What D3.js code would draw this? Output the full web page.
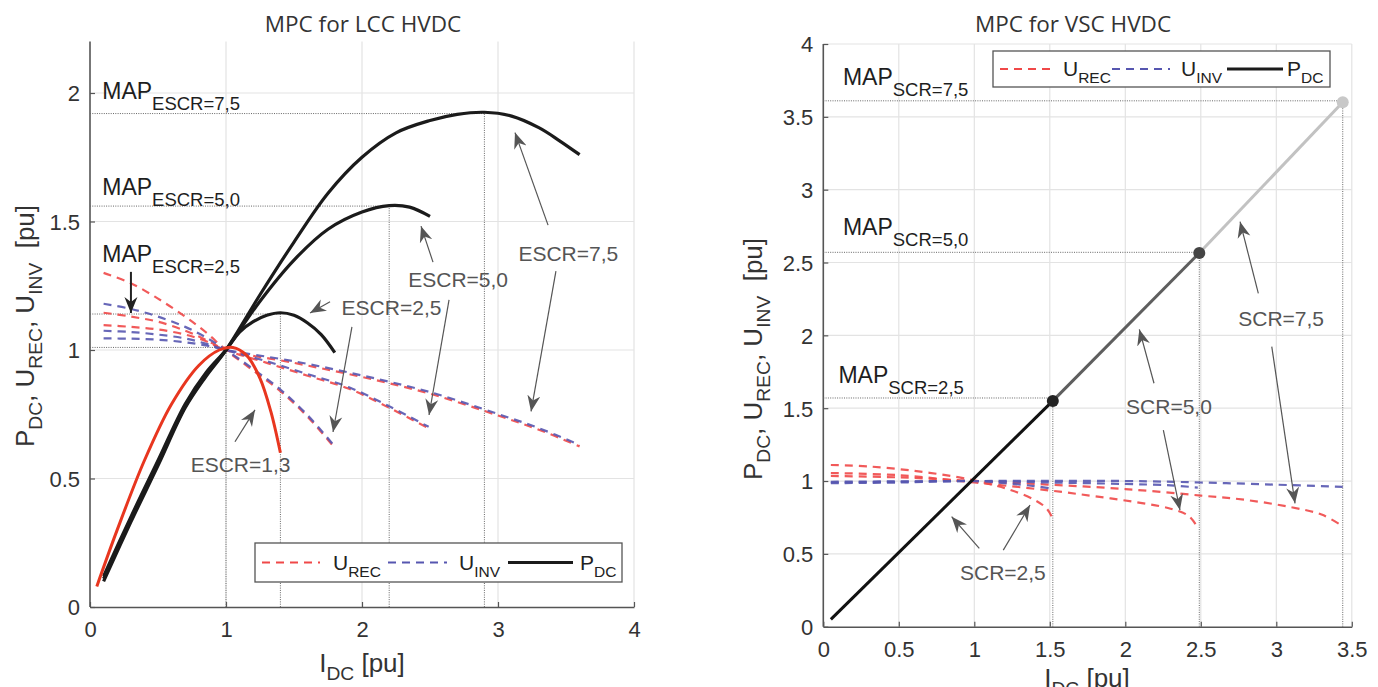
<!DOCTYPE html>
<html>
<head>
<meta charset="utf-8">
<script src="https://cdn.jsdelivr.net/npm/d3@7"></script>
<style>
  body { margin: 0; background: #fff; }
  svg { display: block; }
  text { font-family: "Liberation Sans", Arial, sans-serif; }
</style>
</head>
<body>
<div id="chart"></div>
<script>
// ---------- LCC panel data ----------
const lccXTicks = [0, 1, 2, 3, 4];
const lccYTicks = [0, 0.5, 1, 1.5, 2];

const lccPdc13 = [[0.05,0.08],[0.2,0.30],[0.4,0.57],[0.6,0.79],[0.8,0.94],[0.95,1.0],[1.05,1.01],[1.15,0.98],[1.25,0.89],[1.33,0.76],[1.4,0.6]];
const lccPdc25 = [[0.1,0.12],[0.3,0.35],[0.5,0.57],[0.7,0.79],[0.85,0.91],[1,1.0],[1.1,1.07],[1.2,1.11],[1.3,1.135],[1.4,1.145],[1.5,1.135],[1.6,1.105],[1.7,1.06],[1.8,0.99]];
const lccPdc50 = [[0.1,0.11],[0.3,0.34],[0.5,0.56],[0.7,0.78],[0.85,0.9],[1,1.0],[1.25,1.19],[1.5,1.35],[1.75,1.47],[2,1.537],[2.2,1.562],[2.35,1.556],[2.5,1.52]];
const lccPdc75 = [[0.1,0.1],[0.3,0.33],[0.5,0.55],[0.7,0.775],[0.85,0.895],[1,1.0],[1.25,1.215],[1.5,1.42],[1.75,1.61],[2,1.75],[2.25,1.845],[2.5,1.893],[2.7,1.917],[2.9,1.925],[3.1,1.91],[3.3,1.865],[3.45,1.815],[3.6,1.76]];

const lccUrec25 = [[0.1,1.30],[0.3,1.26],[0.5,1.20],[0.7,1.13],[0.85,1.07],[1,1.0],[1.2,0.92],[1.4,0.84],[1.6,0.74],[1.79,0.625]];
const lccUinv25 = [[0.1,1.18],[0.3,1.16],[0.5,1.13],[0.7,1.09],[0.85,1.05],[1,1.0],[1.2,0.926],[1.4,0.846],[1.6,0.746],[1.79,0.631]];
const lccUrec50 = [[0.1,1.145],[0.3,1.13],[0.5,1.11],[0.7,1.075],[0.85,1.04],[1,1.0],[1.3,0.95],[1.6,0.9],[1.9,0.85],[2.2,0.775],[2.49,0.695]];
const lccUinv50 = [[0.1,1.075],[0.3,1.07],[0.5,1.06],[0.7,1.045],[0.85,1.025],[1,1.0],[1.3,0.956],[1.6,0.906],[1.9,0.856],[2.2,0.781],[2.49,0.701]];
const lccUrec75 = [[0.1,1.097],[0.3,1.09],[0.5,1.08],[0.7,1.06],[0.85,1.035],[1,1.0],[1.5,0.95],[2,0.895],[2.5,0.83],[3,0.745],[3.3,0.69],[3.6,0.625]];
const lccUinv75 = [[0.1,1.045],[0.3,1.044],[0.5,1.04],[0.7,1.03],[0.85,1.018],[1,1.0],[1.5,0.956],[2,0.901],[2.5,0.836],[3,0.751],[3.3,0.696],[3.6,0.631]];

// maximum power points (I, P) and MAP label anchors
const lccMpp = [[1.0,1.01],[1.4,1.14],[2.2,1.56],[2.9,1.92]];
const lccMapLabels = [
  { sub: 'ESCR=7,5', x: 0.09, y: 1.975 },
  { sub: 'ESCR=5,0', x: 0.09, y: 1.603 },
  { sub: 'ESCR=2,5', x: 0.09, y: 1.344 }
];
const lccNotes = [
  { text: 'ESCR=1,3', x: 0.74, y: 0.525 },
  { text: 'ESCR=2,5', x: 1.85, y: 1.136 },
  { text: 'ESCR=5,0', x: 2.34, y: 1.245 },
  { text: 'ESCR=7,5', x: 3.15, y: 1.346 }
];
const lccArrows = [
  { from: [0.301,1.304], to: [0.301,1.144], dark: true },
  { from: [1.066,0.643], to: [1.213,0.767] },
  { from: [1.765,1.188], to: [1.618,1.144] },
  { from: [1.926,1.09],  to: [1.787,0.681] },
  { from: [2.522,1.342], to: [2.434,1.482] },
  { from: [2.64,1.195],  to: [2.493,0.747] },
  { from: [3.368,1.486], to: [3.125,1.846] },
  { from: [3.426,1.307], to: [3.243,0.761] }
];

// ---------- VSC panel data ----------
const vscXTicks = [0, 0.5, 1, 1.5, 2, 2.5, 3, 3.5];
const vscYTicks = [0, 0.5, 1, 1.5, 2, 2.5, 3, 3.5, 4];

const vscPdc25 = [[0.05,0.05],[1.52,1.55]];
const vscPdc50 = [[1.52,1.55],[2.49,2.565]];
const vscPdc75 = [[2.49,2.565],[3.44,3.60]];
const vscMapLevels = [1.57, 2.57, 3.61];

const vscUrec25 = [[0.05,1.11],[0.3,1.10],[0.6,1.07],[0.9,1.025],[1.1,0.98],[1.25,0.935],[1.4,0.87],[1.48,0.81],[1.53,0.72]];
const vscUinv25 = [[0.05,0.985],[0.5,0.99],[1,1.0],[1.2,0.985],[1.4,0.965],[1.53,0.945]];
const vscUrec50 = [[0.05,1.055],[0.5,1.04],[1,0.99],[1.5,0.935],[1.8,0.895],[2.1,0.85],[2.3,0.81],[2.42,0.76],[2.48,0.68]];
const vscUinv50 = [[0.05,0.99],[0.5,0.995],[1,1.0],[1.5,0.99],[2,0.98],[2.3,0.97],[2.48,0.955]];
const vscUrec75 = [[0.05,1.035],[0.5,1.025],[1,1.0],[1.5,0.975],[2,0.945],[2.5,0.9],[2.8,0.87],[3.1,0.82],[3.3,0.77],[3.44,0.69]];
const vscUinv75 = [[0.05,0.995],[1,1.0],[2,1.0],[2.5,0.99],[3,0.975],[3.44,0.96]];

const vscMapLabels = [
  { sub: 'SCR=7,5', x: 0.13, y: 3.718 },
  { sub: 'SCR=5,0', x: 0.13, y: 2.688 },
  { sub: 'SCR=2,5', x: 0.10, y: 1.671 }
];
const vscNotes = [
  { text: 'SCR=2,5', x: 0.905, y: 0.32 },
  { text: 'SCR=5,0', x: 2.005, y: 1.46 },
  { text: 'SCR=7,5', x: 2.748, y: 2.064 }
];
const vscArrows = [
  { from: [1.033,0.538], to: [0.85,0.755] },
  { from: [1.192,0.526], to: [1.369,0.835] },
  { from: [2.19,1.671],  to: [2.093,2.041] },
  { from: [2.252,1.35],  to: [2.362,0.801] },
  { from: [2.881,2.288], to: [2.76,2.78] },
  { from: [2.97,1.922],  to: [3.124,0.847] }
];

// ---------- drawing ----------
const W = 1378, H = 687;
const RED = '#f04848', BLUE = '#5656b0', GRID = '#e3e3e3', AXIS = '#555';

const svg = d3.select('#chart').append('svg')
  .attr('width', W).attr('height', H)
  .style('background', '#fff');

const defs = svg.append('defs');
[['arrGrey', '#555'], ['arrDark', '#222']].forEach(([id, c]) => {
  defs.append('marker')
    .attr('id', id)
    .attr('viewBox', '-16 -7 18 14')
    .attr('refX', 0).attr('refY', 0)
    .attr('markerWidth', 18).attr('markerHeight', 14)
    .attr('markerUnits', 'userSpaceOnUse')
    .attr('orient', 'auto')
    .append('path')
    .attr('d', 'M0,0 L-16,-6.5 L-11,0 L-16,6.5 Z')
    .attr('fill', c);
});

function subText(g, x, y, main, sub, size, subSize, dy, color) {
  const t = g.append('text').attr('x', x).attr('y', y)
    .attr('fill', color || '#222').style('font-size', size + 'px');
  t.append('tspan').text(main);
  t.append('tspan').attr('dy', dy).style('font-size', subSize + 'px').text(sub);
  return t;
}

function axisLabelY(g, x, y, size) {
  const t = g.append('text')
    .attr('transform', `translate(${x},${y}) rotate(-90)`)
    .attr('text-anchor', 'middle')
    .attr('fill', '#333').style('font-size', size + 'px');
  const s = size * 0.74, d = size * 0.3;
  t.append('tspan').text('P');
  t.append('tspan').attr('dy', d).style('font-size', s + 'px').text('DC');
  t.append('tspan').attr('dy', -d).text(', U');
  t.append('tspan').attr('dy', d).style('font-size', s + 'px').text('REC');
  t.append('tspan').attr('dy', -d).text(', U');
  t.append('tspan').attr('dy', d).style('font-size', s + 'px').text('INV');
  t.append('tspan').attr('dy', -d).text('\u00a0 [pu]');
}

function axisLabelX(g, x, y, size) {
  const t = g.append('text').attr('x', x).attr('y', y)
    .attr('text-anchor', 'middle')
    .attr('fill', '#333').style('font-size', size + 'px');
  t.append('tspan').text('I');
  t.append('tspan').attr('dy', size * 0.3).style('font-size', size * 0.74 + 'px').text('DC');
  t.append('tspan').attr('dy', -size * 0.3).text(' [pu]');
}

function panel(opt) {
  const x = d3.scaleLinear().domain(opt.xDomain).range(opt.xRange);
  const y = d3.scaleLinear().domain(opt.yDomain).range(opt.yRange);
  const g = svg.append('g');

  // grid
  g.append('g').selectAll('line').data(opt.xTicks.filter(d => d > 0)).join('line')
    .attr('x1', d => x(d)).attr('x2', d => x(d))
    .attr('y1', y.range()[0]).attr('y2', y.range()[1])
    .attr('stroke', GRID).attr('stroke-width', 1.2);
  g.append('g').selectAll('line').data(opt.yTicks.filter(d => d > 0)).join('line')
    .attr('x1', x.range()[0]).attr('x2', x.range()[1])
    .attr('y1', d => y(d)).attr('y2', d => y(d))
    .attr('stroke', GRID).attr('stroke-width', 1.2);

  // axes
  const ax = g.append('g').attr('transform', `translate(0,${y.range()[0]})`)
    .call(d3.axisBottom(x).tickValues(opt.xTicks).tickSizeInner(-5).tickSizeOuter(0).tickPadding(14)
      .tickFormat(d3.format('')));
  const ay = g.append('g').attr('transform', `translate(${x.range()[0]},0)`)
    .call(d3.axisLeft(y).tickValues(opt.yTicks).tickSizeInner(-5).tickSizeOuter(0).tickPadding(10)
      .tickFormat(d3.format('')));
  [ax, ay].forEach(a => {
    a.select('.domain').attr('stroke', AXIS).attr('stroke-width', 1.6);
    a.selectAll('.tick line').attr('stroke', AXIS).attr('stroke-width', 1.2);
    a.selectAll('.tick text').attr('fill', '#333').style('font-size', '22px')
      .style('font-family', '"Liberation Sans", Arial, sans-serif');
  });
  ay.select('.domain').attr('d', `M0,${y.range()[0]}V${y.range()[1]}`);
  ay.selectAll('.tick text').attr('dy', '0.36em');
  ax.selectAll('.tick text').attr('dy', '0.72em');

  // title
  g.append('text').attr('x', opt.titleX).attr('y', 32).attr('text-anchor', 'middle')
    .attr('fill', '#333').style('font-family', '"Open Sans", sans-serif').style('font-size', '22.5px')
    .text(opt.title);

  return { g, x, y };
}

const line = (x, y) => d3.line().x(d => x(d[0])).y(d => y(d[1])).curve(d3.curveCatmullRom.alpha(0.5));

function dotted(g, x1, y1, x2, y2) {
  g.append('line').attr('x1', x1).attr('y1', y1).attr('x2', x2).attr('y2', y2)
    .attr('stroke', '#666').attr('stroke-width', 1).attr('stroke-dasharray', '1,1.3');
}

function arrows(g, x, y, list) {
  g.append('g').selectAll('line').data(list).join('line')
    .attr('x1', d => x(d.from[0])).attr('y1', d => y(d.from[1]))
    .attr('x2', d => x(d.to[0])).attr('y2', d => y(d.to[1]))
    .attr('stroke', d => d.dark ? '#222' : '#555')
    .attr('stroke-width', d => d.dark ? 2 : 1.2)
    .attr('marker-end', d => d.dark ? 'url(#arrDark)' : 'url(#arrGrey)');
}

function dashed(g, x, y, data, color) {
  g.append('path').datum(data).attr('d', line(x, y))
    .attr('fill', 'none').attr('stroke', color).attr('stroke-width', 2.2)
    .attr('stroke-dasharray', '8,6').attr('stroke-opacity', 0.9);
}

function legend(g, x0, y0, w, h, marks) {
  g.append('rect').attr('x', x0).attr('y', y0).attr('width', w).attr('height', h)
    .attr('fill', '#fff').attr('stroke', '#555').attr('stroke-width', 1.3);
  const cy = y0 + h / 2;
  marks.forEach(m => {
    g.append('line').attr('x1', m.x1).attr('x2', m.x2).attr('y1', cy).attr('y2', cy)
      .attr('stroke', m.color).attr('stroke-width', m.dash ? 2.2 : 3)
      .attr('stroke-dasharray', m.dash ? '8,6' : null);
    subText(g, m.tx, cy + 7, m.main, m.sub, 21, 15.5, 7, '#222');
  });
}

// ===== LCC panel =====
{
  const { g, x, y } = panel({
    xDomain: [0, 4], xRange: [90, 634],
    yDomain: [0, 2.2], yRange: [607, 41.6],
    xTicks: lccXTicks, yTicks: lccYTicks,
    title: 'MPC for LCC HVDC', titleX: 363
  });

  lccMpp.forEach(([i, p]) => {
    dotted(g, x(0), y(p), x(i), y(p));
    dotted(g, x(i), y(0), x(i), y(p));
  });

  [[lccUrec75, RED], [lccUinv75, BLUE], [lccUrec50, RED], [lccUinv50, BLUE],
   [lccUrec25, RED], [lccUinv25, BLUE]].forEach(([d, c]) => dashed(g, x, y, d, c));

  [lccPdc75, lccPdc50, lccPdc25].forEach(d => {
    g.append('path').datum(d).attr('d', line(x, y))
      .attr('fill', 'none').attr('stroke', '#1b1b1b').attr('stroke-width', 3.2);
  });
  g.append('path').datum(lccPdc13).attr('d', line(x, y))
    .attr('fill', 'none').attr('stroke', '#e8361f').attr('stroke-width', 3);

  lccMapLabels.forEach(m => subText(g, x(m.x), y(m.y), 'MAP', m.sub, 23, 18.5, 11, '#1e1e1e'));
  g.append('g').selectAll('text').data(lccNotes).join('text')
    .attr('x', d => x(d.x)).attr('y', d => y(d.y))
    .attr('fill', '#555').style('font-size', '21px').text(d => d.text);
  arrows(g, x, y, lccArrows);

  legend(g, 255, 543, 367, 39, [
    { x1: 262, x2: 320, color: RED, dash: true, tx: 333, main: 'U', sub: 'REC' },
    { x1: 388, x2: 447, color: BLUE, dash: true, tx: 459, main: 'U', sub: 'INV' },
    { x1: 508, x2: 573, color: '#1b1b1b', dash: false, tx: 580, main: 'P', sub: 'DC' }
  ]);

  axisLabelY(g, 34, 326, 26);
  axisLabelX(g, 362, 672, 26);
}

// ===== VSC panel =====
{
  const { g, x, y } = panel({
    xDomain: [0, 3.5], xRange: [823.3, 1351.8],
    yDomain: [0, 4], yRange: [626.7, 44],
    xTicks: vscXTicks, yTicks: vscYTicks,
    title: 'MPC for VSC HVDC', titleX: 1073
  });

  const ends = [vscPdc25[1], vscPdc50[1], vscPdc75[1]];
  ends.forEach(([i, p], k) => {
    dotted(g, x(0), y(vscMapLevels[k]), x(i), y(vscMapLevels[k]));
    dotted(g, x(i), y(0), x(i), y(p));
  });

  [[vscUrec75, RED], [vscUinv75, BLUE], [vscUrec50, RED], [vscUinv50, BLUE],
   [vscUrec25, RED], [vscUinv25, BLUE]].forEach(([d, c]) => dashed(g, x, y, d, c));

  const segColors = ['#111', '#5e5e5e', '#c2c2c2'];
  [vscPdc25, vscPdc50, vscPdc75].forEach((d, k) => {
    g.append('path').datum(d).attr('d', line(x, y))
      .attr('fill', 'none').attr('stroke', segColors[k]).attr('stroke-width', 3);
  });
  g.append('g').selectAll('circle').data(ends).join('circle')
    .attr('cx', d => x(d[0])).attr('cy', d => y(d[1])).attr('r', 6)
    .attr('fill', (d, k) => ['#222', '#444', '#c8c8c8'][k]);

  vscMapLabels.forEach(m => subText(g, x(m.x), y(m.y), 'MAP', m.sub, 23, 18.5, 11, '#1e1e1e'));
  g.append('g').selectAll('text').data(vscNotes).join('text')
    .attr('x', d => x(d.x)).attr('y', d => y(d.y))
    .attr('fill', '#555').style('font-size', '21px').text(d => d.text);
  arrows(g, x, y, vscArrows);

  legend(g, 993, 51, 337, 36, [
    { x1: 1000, x2: 1053, color: RED, dash: true, tx: 1063, main: 'U', sub: 'REC' },
    { x1: 1112, x2: 1170, color: BLUE, dash: true, tx: 1181, main: 'U', sub: 'INV' },
    { x1: 1227, x2: 1283, color: '#1b1b1b', dash: false, tx: 1287, main: 'P', sub: 'DC' }
  ]);

  axisLabelY(g, 762, 359, 26);
  axisLabelX(g, 1087, 687, 26);
}
</script>
</body>
</html>
